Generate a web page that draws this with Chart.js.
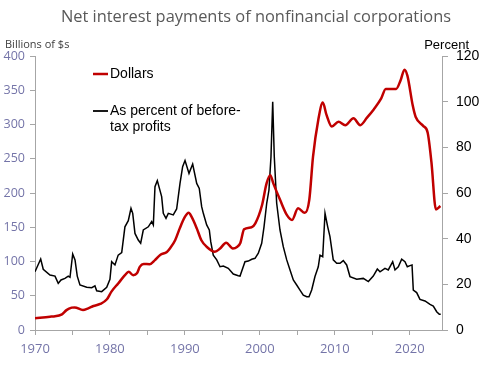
<!DOCTYPE html>
<html>
<head>
<meta charset="utf-8">
<script src="https://cdn.jsdelivr.net/npm/chart.js@4"></script>
<style>
html,body{margin:0;padding:0;background:#fff;}
canvas{display:block;}
</style>
</head>
<body>
<canvas id="c" width="479" height="383"></canvas>
<script>
// Dollars (billions, left axis)
const dollarYears = [1970.0,1972.0,1972.4,1973.6,1974.2,1974.9,1975.3,1976.4,1977.1,1977.8,1978.7,1979.6,1980.2,1981.1,1982.0,1982.5,1983.1,1983.6,1984.0,1984.5,1985.3,1986.0,1986.7,1987.6,1988.0,1988.7,1989.3,1990.0,1990.5,1990.9,1991.6,1992.2,1992.9,1994.0,1994.7,1995.5,1996.4,1997.0,1997.4,1997.9,1998.9,1999.4,2000.3,2000.9,2001.4,2001.8,2002.7,2003.6,2004.3,2005.1,2006.0,2006.6,2007.1,2007.8,2008.4,2008.9,2009.6,2010.5,2011.4,2012.5,2013.4,2014.3,2015.2,2016.2,2016.8,2018.2,2018.8,2019.3,2019.7,2020.4,2020.8,2021.8,2022.4,2022.9,2023.5,2024.1];
const dollarValues = [17,19.5,19.8,22.9,29,32.6,33,29.2,31.6,35,38,44.8,56,68,80,85,80,82.7,92.5,96.4,96,102,109.5,114,119,131,148,165,171,165,148,131,121.6,114.3,119,127.5,119,121.6,127,147,150,155.7,182.5,214,226,214,190,168,160.6,177.6,171,190,253,306.6,332,314,297,304,299,309,299,310,322,338,352,352,365,380,371,328,311,298,288,245,176,181];

// As percent of before-tax profits (right axis)
const pctYears = [1970.0,1970.76,1971.1,1972.0,1972.67,1973.1,1973.47,1974.0,1974.44,1974.67,1975.03,1975.34,1975.64,1976.0,1976.9,1977.57,1978.0,1978.23,1978.9,1979.57,1980.0,1980.23,1980.67,1981.1,1981.57,1982.0,1982.45,1982.81,1983.04,1983.34,1983.78,1984.1,1984.45,1985.12,1985.57,1985.79,1986.01,1986.32,1986.9,1987.12,1987.48,1987.79,1988.45,1988.9,1989.35,1989.7,1990.02,1990.55,1991.04,1991.58,1991.92,1992.24,1992.46,1992.91,1993.26,1993.45,1993.79,1994.25,1994.69,1995.13,1995.79,1996.46,1997.13,1997.36,1998.02,1998.46,1998.92,1999.36,1999.8,2000.25,2000.56,2000.92,2001.22,2001.49,2001.72,2001.93,2002.25,2002.69,2003.13,2003.59,2004.03,2004.47,2004.92,2005.36,2005.8,2006.26,2006.56,2006.92,2007.36,2007.8,2008.03,2008.39,2008.7,2009.06,2009.36,2009.8,2010.26,2010.7,2011.14,2011.59,2012.03,2012.93,2013.81,2014.48,2015.14,2015.68,2016.04,2016.7,2017.14,2017.73,2018.04,2018.48,2018.93,2019.37,2019.68,2020.04,2020.31,2020.48,2020.93,2021.37,2022.04,2022.71,2023.15,2023.6,2023.95,2024.14];
const pctValues = [25.5,31.1,26.6,24.1,23.6,20.4,21.9,22.6,23.6,23.1,33.3,30.7,23.6,19.7,18.7,18.5,19.3,17.2,16.8,18.7,22.2,29.9,28.5,32.8,33.9,45.2,47.9,53.3,51.1,42.3,39.4,38.0,43.8,45.2,47.5,46,62.8,65.4,58.4,51.1,48.9,51.1,50.4,53,64.2,71.5,74.2,68.6,72.7,64.2,62,54,51.1,46,43.8,38.7,32.8,30.7,27.7,28,27,24.5,23.8,23.6,29.9,30.2,31,31.4,33.6,38,45.2,55.5,61.3,75.9,100,75.9,55.5,43.8,36.5,30.7,26.3,21.9,19.7,17.5,15.3,14.6,14.6,17.5,23.4,27.7,32.8,32.1,51.1,45.2,40.9,30.7,29.2,29.2,30.4,28.5,23.4,22.2,22.6,21.2,23.6,26.7,25.5,27,26.3,29.9,26.3,27.7,31,29.9,27.7,28.2,28.5,17.5,16.4,13.4,12.7,11.2,10.5,8.0,6.9,6.9];

const xTickYears = [1970,1975,1980,1985,1990,1995,2000,2005,2010,2015,2020];
const leftTicks = [0,50,100,150,200,250,300,350,400];
const rightTicks = [0,20,40,60,80,100,120];

const titleText = 'Net interest payments of nonfinancial corporations';
const leftAxisTitle = 'Billions of $s';
const rightAxisTitle = 'Percent';
const legendDollars = 'Dollars';
const legendPct = ['As percent of before-', 'tax profits'];

const RED = '#c00000';
const AXIS = '#a6a6a6';
const LBL = '#7474a8';

const overlay = {
  id: 'overlay',
  afterDraw(chart) {
    const ctx = chart.ctx;
    ctx.save();
    ctx.textBaseline = 'middle';
    // title
    ctx.fillStyle = '#595959';
    ctx.font = '16.4px "Open Sans"';
    ctx.textAlign = 'center';
    ctx.fillText(titleText, 256, 17);
    // axis titles
    ctx.font = '11px "Open Sans"';
    ctx.fillStyle = '#404040';
    ctx.textAlign = 'left';
    ctx.fillText(leftAxisTitle, 5, 45);
    ctx.font = '13px "Liberation Sans"';
    ctx.fillStyle = '#000';
    ctx.textAlign = 'right';
    ctx.fillText(rightAxisTitle, 469, 45);
    // legend
    ctx.textAlign = 'left';
    ctx.font = '14px "Liberation Sans"';
    ctx.strokeStyle = RED; ctx.lineWidth = 2.5;
    ctx.beginPath(); ctx.moveTo(93, 74); ctx.lineTo(108, 74); ctx.stroke();
    ctx.fillStyle = '#000';
    ctx.fillText(legendDollars, 110, 74);
    ctx.strokeStyle = '#000'; ctx.lineWidth = 1.8;
    ctx.beginPath(); ctx.moveTo(93, 111); ctx.lineTo(108, 111); ctx.stroke();
    ctx.fillText(legendPct[0], 110, 111);
    ctx.fillText(legendPct[1], 110, 127);
    ctx.restore();
  }
};

new Chart(document.getElementById('c'), {
  type: 'line',
  data: {
    datasets: [
      {
        label: 'As percent of before-tax profits',
        data: pctYears.map((x, i) => ({x, y: pctValues[i]})),
        yAxisID: 'y1',
        borderColor: '#000',
        borderWidth: 1.5,
        pointRadius: 0,
        tension: 0,
        order: 2
      },
      {
        label: 'Dollars',
        data: dollarYears.map((x, i) => ({x, y: dollarValues[i]})),
        yAxisID: 'y',
        borderColor: RED,
        borderWidth: 2.5,
        pointRadius: 0,
        cubicInterpolationMode: 'monotone',
        order: 1
      }
    ]
  },
  options: {
    responsive: false,
    devicePixelRatio: 1,
    animation: false,
    layout: {padding: {top: 56, left: 0, right: 0, bottom: 0}},
    plugins: {legend: {display: false}, tooltip: {enabled: false}, title: {display: false}},
    scales: {
      x: {
        type: 'linear',
        min: 1970,
        max: 2024.31,
        afterBuildTicks: s => { s.ticks = xTickYears.map(v => ({value: v})); },
        afterFit: s => { s.height = 53; },
        ticks: {
          autoSkip: false, maxRotation: 0, padding: 6,
          color: LBL, font: {family: '"Open Sans"', size: 13},
          callback: v => (v % 10 === 0 ? String(v) : '')
        },
        grid: {drawOnChartArea: false, tickLength: 5, color: AXIS},
        border: {color: AXIS}
      },
      y: {
        position: 'left',
        min: 0, max: 400,
        afterBuildTicks: s => { s.ticks = leftTicks.map(v => ({value: v})); },
        afterFit: s => { s.width = 35; },
        ticks: {padding: 5, color: LBL, font: {family: '"Open Sans"', size: 12.5}},
        grid: {drawOnChartArea: false, tickLength: 5, color: AXIS},
        border: {color: AXIS}
      },
      y1: {
        position: 'right',
        min: 0, max: 120,
        afterBuildTicks: s => { s.ticks = rightTicks.map(v => ({value: v})); },
        afterFit: s => { s.width = 37; },
        ticks: {padding: 8, color: '#000', font: {family: '"Liberation Sans"', size: 14}},
        grid: {drawOnChartArea: false, tickLength: 6, color: AXIS},
        border: {color: AXIS}
      }
    }
  },
  plugins: [overlay]
});
</script>
</body>
</html>
